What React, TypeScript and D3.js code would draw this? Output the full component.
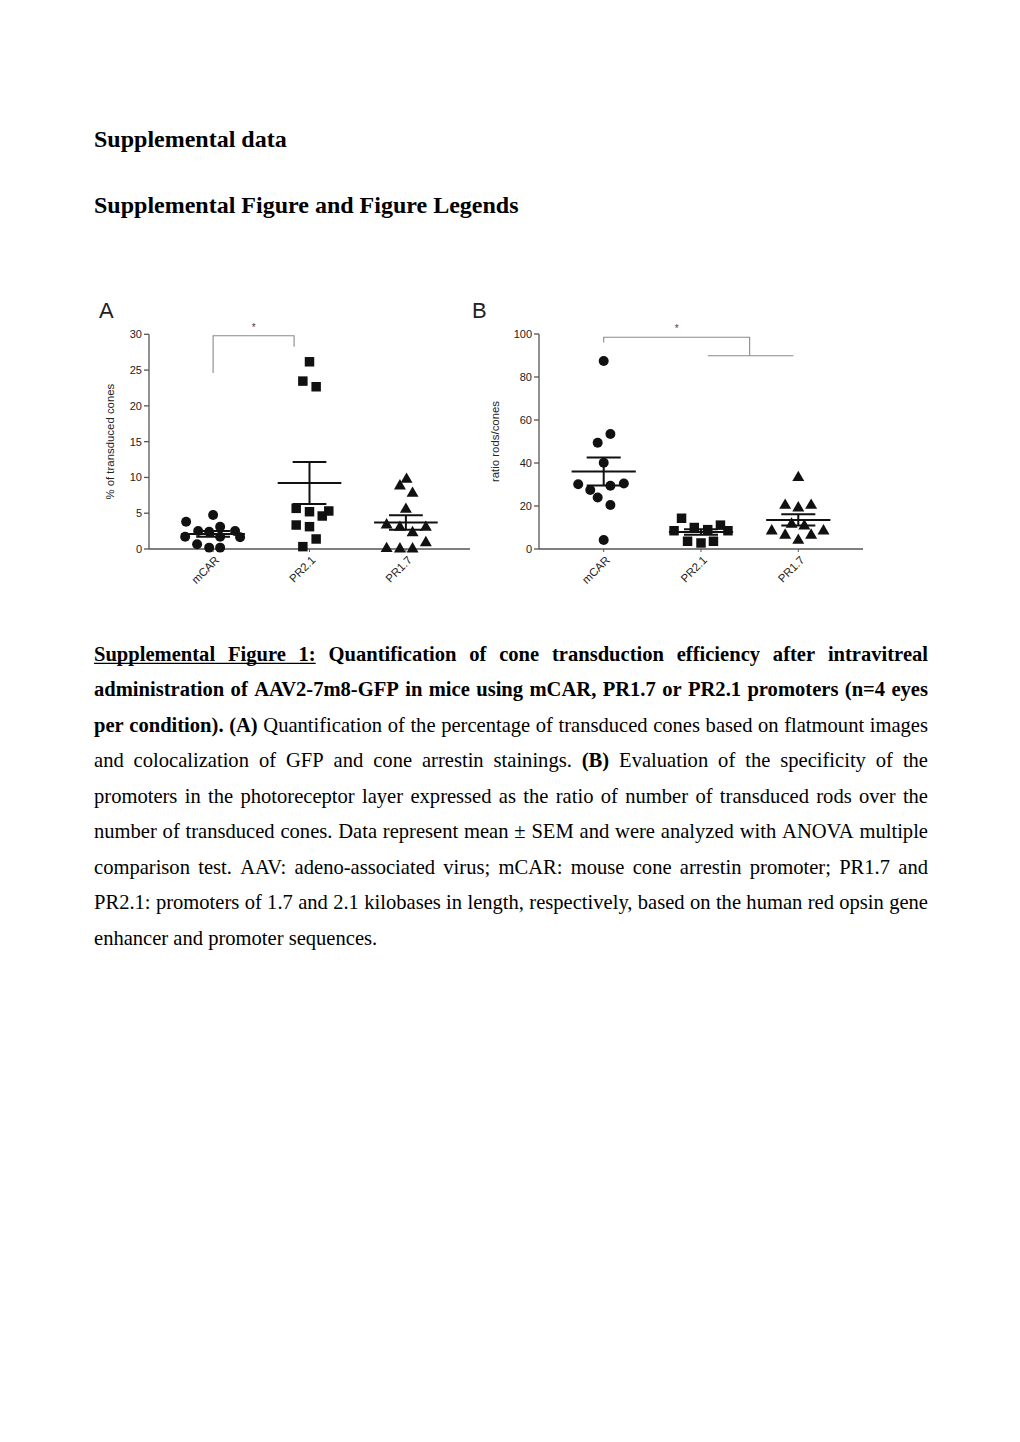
import React, { useMemo } from 'react';
import * as d3 from 'd3';

// ---------- DATA ----------
const categories = ['mCAR', 'PR2.1', 'PR1.7'];

const ticksA = [0, 5, 10, 15, 20, 25, 30];
const ticksB = [0, 20, 40, 60, 80, 100];

// Panel A: % of transduced cones (jitter = horizontal offset as a fraction of the category step)
const aMcarValues = [4.75, 3.82, 3.12, 2.51, 2.42, 2.51, 1.72, 1.72, 1.63, 0.66, 0.19, 0.19];
const aMcarJitter = [0, -0.28, 0.073, -0.155, -0.041, 0.228, -0.29, 0.073, 0.28, -0.166, -0.041, 0.073];
const aPr21Values = [26.16, 23.46, 22.67, 5.68, 5.21, 5.31, 4.61, 3.35, 3.12, 1.4, 0.33];
const aPr21Jitter = [0, -0.069, 0.069, -0.138, 0, 0.2, 0.132, -0.138, 0, 0.069, -0.069];
const aPr17Values = [9.73, 8.8, 7.78, 5.54, 3.35, 3.03, 3.03, 2.28, 0.88, 0.05, 0, 0];
const aPr17Jitter = [0.007, -0.062, 0.069, 0, -0.2, -0.062, 0.207, 0.069, 0.207, -0.2, -0.062, 0.069];

// Panel B: ratio rods/cones
const bMcarValues = [87.4, 53.5, 49.4, 40.1, 30.1, 30.5, 29.4, 27.4, 24.0, 20.5, 4.2];
const bMcarJitter = [0, 0.069, -0.062, 0, -0.262, 0.207, 0.069, -0.138, -0.062, 0.069, 0];
const bPr21Values = [14.3, 8.5, 10.0, 9.0, 11.1, 8.5, 3.6, 2.8, 3.6];
const bPr21Jitter = [-0.2, -0.277, -0.069, 0.069, 0.2, 0.277, -0.138, 0, 0.128];
const bPr17Values = [33.2, 20.3, 19.1, 20.3, 11.5, 10.7, 8.4, 8.4, 6.4, 6.4, 4.0];
const bPr17Jitter = [0, -0.135, 0, 0.132, -0.069, 0.062, -0.273, 0.259, -0.135, 0.132, 0];

// significance brackets (data units)
const bracketA = { top: 29.8, leftFoot: 24.6, rightFoot: 28.25, rightFrac: 0.84 };
const bracketB = { top: 98.5, leftFoot: 96.1, lower: 89.9 };

const headings = ['Supplemental data', 'Supplemental Figure and Figure Legends'];

type Seg = { t: string; b?: boolean; u?: boolean };
const captionLines: Seg[][] = [
  [{ t: 'Supplemental Figure 1:', b: true, u: true }, { t: 'Quantification of cone transduction efficiency after intravitreal', b: true }],
  [{ t: 'administration of AAV2-7m8-GFP in mice using mCAR, PR1.7 or PR2.1 promoters (n=4 eyes', b: true }],
  [{ t: 'per condition). (A)', b: true }, { t: 'Quantification of the percentage of transduced cones based on flatmount images' }],
  [{ t: 'and colocalization of GFP and cone arrestin stainings.' }, { t: '(B)', b: true }, { t: 'Evaluation of the specificity of the' }],
  [{ t: 'promoters in the photoreceptor layer expressed as the ratio of number of transduced rods over the' }],
  [{ t: 'number of transduced cones. Data represent mean ± SEM and were analyzed with ANOVA multiple' }],
  [{ t: 'comparison test. AAV: adeno-associated virus; mCAR: mouse cone arrestin promoter; PR1.7 and' }],
  [{ t: 'PR2.1: promoters of 1.7 and 2.1 kilobases in length, respectively, based on the human red opsin gene' }],
  [{ t: 'enhancer and promoter sequences.' }],
];

// ---------- STYLE ----------
const SANS = '"Liberation Sans", Arial, Helvetica, sans-serif';
const SERIF = '"Liberation Serif", "Times New Roman", serif';
const AXIS_COLOR = '#555';
const TEXT_COLOR = '#222';
const BRACKET_COLOR = '#8a8a8a';
const MARK = '#111';

const symbols = [
  d3.symbol().type(d3.symbolCircle).size(78)(),
  d3.symbol().type(d3.symbolSquare).size(90)(),
  d3.symbol().type(d3.symbolTriangle).size(62)(),
];

function mean(v: number[]) { return d3.mean(v) as number; }
function sem(v: number[]) { return (d3.deviation(v) as number) / Math.sqrt(v.length); }

type Group = { values: number[]; jitter: number[] };

function Panel(props: {
  letter: string; letterX: number; x0: number; x1: number; yTop: number; yBottom: number;
  max: number; ticks: number[]; yLabel: string; yLabelX: number; groups: Group[];
  bracket: (x: d3.ScalePoint<string>, y: d3.ScaleLinear<number, number>) => React.ReactNode;
}) {
  const { letter, letterX, x0, x1, yTop, yBottom, max, ticks, yLabel, yLabelX, groups, bracket } = props;
  const x = d3.scalePoint<string>().domain(categories).range([x0, x1]).padding(0.665);
  const y = d3.scaleLinear().domain([0, max]).range([yBottom, yTop]);
  const step = x.step();
  return (
    <g>
      <text x={letterX} y={318} fontFamily={SANS} fontSize={22} fill={TEXT_COLOR}>{letter}</text>
      {/* y axis */}
      <line x1={x0} x2={x0} y1={y(max)} y2={y(0)} stroke={AXIS_COLOR} strokeWidth={1.3} />
      {ticks.map((t) => (
        <g key={t}>
          <line x1={x0 - 5} x2={x0} y1={y(t)} y2={y(t)} stroke={AXIS_COLOR} strokeWidth={1.3} />
          <text x={x0 - 7} y={y(t)} dy="0.35em" textAnchor="end" fontFamily={SANS} fontSize={11} fill={TEXT_COLOR}>{t}</text>
        </g>
      ))}
      <text transform={`translate(${yLabelX},${(y(0) + y(max)) / 2}) rotate(-90)`} textAnchor="middle" fontFamily={SANS} fontSize={11.4} fill={TEXT_COLOR}>{yLabel}</text>
      {/* x axis */}
      <line x1={x0} x2={x1} y1={y(0)} y2={y(0)} stroke={AXIS_COLOR} strokeWidth={1.3} />
      {categories.map((c) => (
        <g key={c}>
          <line x1={x(c)!} x2={x(c)!} y1={y(0)} y2={y(0) + 3} stroke={AXIS_COLOR} strokeWidth={1} />
          <text transform={`translate(${x(c)! + 4},${y(0) + 9}) rotate(-45)`} textAnchor="end" dy="0.35em" fontFamily={SANS} fontSize={11.4} fill={TEXT_COLOR}>{c}</text>
        </g>
      ))}
      {/* points */}
      {groups.map((g, gi) => (
        <g key={gi}>
          {g.values.map((v, i) => (
            <path key={i} d={symbols[gi]!} transform={`translate(${x(categories[gi])! + g.jitter[i] * step},${y(v)})`} fill={MARK} />
          ))}
        </g>
      ))}
      {/* mean +/- SEM */}
      {groups.map((g, gi) => {
        const cx = x(categories[gi])!;
        const m = mean(g.values);
        const s = sem(g.values);
        return (
          <g key={'m' + gi} stroke={MARK} strokeWidth={2} fill="none">
            <line x1={cx - 0.33 * step} x2={cx + 0.33 * step} y1={y(m)} y2={y(m)} />
            <line x1={cx} x2={cx} y1={y(m - s)} y2={y(m + s)} />
            <line x1={cx - 0.175 * step} x2={cx + 0.175 * step} y1={y(m + s)} y2={y(m + s)} />
            <line x1={cx - 0.175 * step} x2={cx + 0.175 * step} y1={y(m - s)} y2={y(m - s)} />
          </g>
        );
      })}
      {bracket(x, y)}
    </g>
  );
}

function Caption() {
  const layout = useMemo(() => {
    const canvas = document.createElement('canvas');
    const ctx = canvas.getContext('2d')!;
    const size = 20.57;
    const left = 94, right = 928;
    const out: { words: { t: string; b: boolean; u: boolean; x: number; w: number }[]; y: number }[] = [];
    captionLines.forEach((line, li) => {
      const words: { t: string; b: boolean; u: boolean; w: number; x: number }[] = [];
      line.forEach((seg) => {
        seg.t.split(' ').forEach((t) => {
          ctx.font = `${seg.b ? 'bold ' : ''}${size}px ${SERIF}`;
          words.push({ t, b: !!seg.b, u: !!seg.u, w: ctx.measureText(t).width, x: 0 });
        });
      });
      const total = d3.sum(words, (w) => w.w);
      ctx.font = `${size}px ${SERIF}`;
      const last = li === captionLines.length - 1;
      const gap = last ? ctx.measureText(' ').width : (right - left - total) / (words.length - 1);
      let cx = left;
      words.forEach((w) => { w.x = cx; cx += w.w + gap; });
      out.push({ words, y: 660.8 + li * 35.5 });
    });
    return out;
  }, []);
  return (
    <g fontFamily={SERIF} fontSize={20.57} fill="#000">
      {layout.map((l, li) => {
        const ul = l.words.filter((w) => w.u);
        return (
          <g key={li}>
            {l.words.map((w, wi) => (
              <text key={wi} x={w.x} y={l.y} fontWeight={w.b ? 'bold' : 'normal'}>{w.t}</text>
            ))}
            {ul.length > 0 && (
              <line x1={ul[0].x} x2={ul[ul.length - 1].x + ul[ul.length - 1].w} y1={l.y + 2.5} y2={l.y + 2.5} stroke="#000" strokeWidth={1.2} />
            )}
          </g>
        );
      })}
    </g>
  );
}

export default function App() {
  const groupsA: Group[] = [
    { values: aMcarValues, jitter: aMcarJitter },
    { values: aPr21Values, jitter: aPr21Jitter },
    { values: aPr17Values, jitter: aPr17Jitter },
  ];
  const groupsB: Group[] = [
    { values: bMcarValues, jitter: bMcarJitter },
    { values: bPr21Values, jitter: bPr21Jitter },
    { values: bPr17Values, jitter: bPr17Jitter },
  ];
  return (
    <svg width={1020} height={1442} style={{ position: 'absolute', left: 0, top: 0, background: '#fff' }}>
      <rect width={1020} height={1442} fill="#fff" />
      <text x={94} y={147} fontFamily={SERIF} fontWeight="bold" fontSize={24}>{headings[0]}</text>
      <text x={94} y={213} fontFamily={SERIF} fontWeight="bold" fontSize={24}>{headings[1]}</text>

      <Panel letter="A" letterX={99} x0={149} x1={470} yTop={334.3} yBottom={549} max={30} ticks={ticksA}
        yLabel="% of transduced cones" yLabelX={114} groups={groupsA}
        bracket={(x, y) => {
          const lx = x('mCAR')!;
          const rx = lx + bracketA.rightFrac * x.step();
          return (
            <g>
              <path d={`M${lx},${y(bracketA.leftFoot)}V${y(bracketA.top)}H${rx}V${y(bracketA.rightFoot)}`} fill="none" stroke={BRACKET_COLOR} strokeWidth={1.1} />
              <text x={(lx + rx) / 2} y={y(bracketA.top) - 4.5} textAnchor="middle" fontFamily={SANS} fontSize={10} fill="#444">*</text>
            </g>
          );
        }} />

      <Panel letter="B" letterX={472} x0={539} x1={863} yTop={334} yBottom={549} max={100} ticks={ticksB}
        yLabel="ratio rods/cones" yLabelX={499} groups={groupsB}
        bracket={(x, y) => {
          const lx = x('mCAR')!;
          const mx = (x('PR2.1')! + x('PR1.7')!) / 2;
          const a = x('PR2.1')! + 0.07 * x.step();
          const b = x('PR1.7')! - 0.05 * x.step();
          return (
            <g fill="none" stroke={BRACKET_COLOR} strokeWidth={1.1}>
              <path d={`M${lx},${y(bracketB.leftFoot)}V${y(bracketB.top)}H${mx}V${y(bracketB.lower)}`} />
              <path d={`M${a},${y(bracketB.lower)}H${b}`} />
              <text x={(lx + mx) / 2} y={y(bracketB.top) - 5} textAnchor="middle" fontFamily={SANS} fontSize={10} fill="#444" stroke="none">*</text>
            </g>
          );
        }} />

      <Caption />
    </svg>
  );
}
